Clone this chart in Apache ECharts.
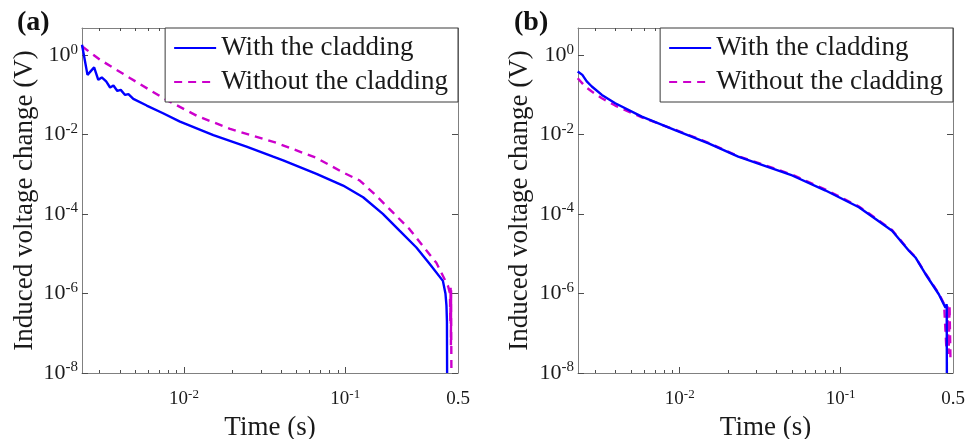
<!DOCTYPE html>
<html><head><meta charset="utf-8">
<script src="https://cdn.jsdelivr.net/npm/echarts@6/dist/echarts.min.js"></script>
<style>html,body{margin:0;padding:0;background:#fff}#c{width:980px;height:439px}</style>
</head><body><div id="c"></div>
<script>
// ---------------- data ----------------
const seriesNames = ['With the cladding', 'Without the cladding'];
const panelLabels = ['(a)', '(b)'];
const xAxisName = 'Time (s)';
const yAxisName = 'Induced voltage change (V)';
const xRange = [0.00233, 0.5];
const yRange = [1e-8, 4.8];
const xMajorTicks = [0.01, 0.1];
const xTickLabels = [0.01, 0.1, 0.5];
const xMinorTicks = [0.003, 0.004, 0.005, 0.006, 0.007, 0.008, 0.009,
  0.02, 0.03, 0.04, 0.05, 0.06, 0.07, 0.08, 0.09];
const yMajorTicks = [1e-8, 1e-6, 1e-4, 1e-2, 1];

// panel (a) - with the cladding
const timeA1 = [0.00233, 0.00252, 0.00277, 0.00294, 0.00309, 0.00329, 0.00348, 0.00365, 0.00386, 0.00405,
  0.00431, 0.00452, 0.00485, 0.00587, 0.00741, 0.00944, 0.0152, 0.0244, 0.0357, 0.0412, 0.0663, 0.0969,
  0.129, 0.171, 0.217, 0.276, 0.334, 0.403, 0.418, 0.424, 0.427, 0.428];
const voltA1 = [1.82, 0.318, 0.489, 0.238, 0.273, 0.217, 0.153, 0.172, 0.125, 0.133,
  0.0994, 0.104, 0.0788, 0.0537, 0.0343, 0.0212, 0.0097, 0.00494, 0.00277, 0.00223, 0.00103, 5.21e-4,
  2.64e-4, 1.01e-4, 3.81e-5, 1.44e-5, 5.5e-6, 2.08e-6, 1.0e-6, 5e-7, 2e-7, 1e-8];
// panel (a) - without the cladding
const timeA2 = [0.00233, 0.00302, 0.00464, 0.00745, 0.0120, 0.0193, 0.0269, 0.0375, 0.0663, 0.0969,
  0.123, 0.156, 0.198, 0.251, 0.303, 0.367, 0.434, 0.446, 0.448, 0.450, 0.452, 0.453, 0.455];
const voltA2 = [1.66, 0.760, 0.262, 0.082, 0.0297, 0.0139, 0.00927, 0.00617, 0.00258, 0.00111,
  6.97e-4, 2.86e-4, 1.08e-4, 4.11e-5, 1.56e-5, 5.93e-6, 1.53e-6, 1.0e-6, 2e-7, 1.4e-6, 5e-8, 1.2e-6, 1e-8];
// panel (b) - with the cladding
const timeB1 = [0.00232, 0.00248, 0.00264, 0.00284, 0.00328, 0.00397, 0.00581, 0.00935, 0.0151, 0.0231,
  0.0311, 0.0500, 0.0807, 0.130, 0.165, 0.209, 0.266, 0.292, 0.337, 0.408, 0.449, 0.457, 0.458];
const voltB1 = [0.388, 0.318, 0.217, 0.162, 0.0994, 0.0614, 0.0283, 0.0130, 0.00600, 0.00277,
  0.00184, 9.33e-4, 3.90e-4, 1.48e-4, 7.52e-5, 3.81e-5, 1.19e-5, 8.07e-6, 3.1e-6, 9.6e-7, 4.4e-7, 5.4e-7, 1e-8];
// panel (b) - without the cladding
const timeB2 = [0.00232, 0.00258, 0.00284, 0.00328, 0.00397, 0.00581, 0.00935, 0.0151, 0.0231, 0.0311,
  0.0500, 0.0807, 0.130, 0.165, 0.209, 0.266, 0.292, 0.337, 0.408, 0.440, 0.448, 0.455, 0.462, 0.470, 0.476, 0.482];
const voltB2 = [0.262, 0.162, 0.121, 0.082, 0.0537, 0.027, 0.0133, 0.0062, 0.00285, 0.0019,
  9.8e-4, 4.1e-4, 1.55e-4, 7.9e-5, 3.95e-5, 1.22e-5, 8.2e-6, 3.2e-6, 1.0e-6, 5.5e-7, 5e-7, 4e-8, 5e-7, 3e-8, 5e-7, 2.5e-8];

// ---------------- build ----------------
const FONT = '"Liberation Serif","Times New Roman",serif';
const L = Math.log10;
const pairs = (t, v) => t.map((x, i) => [L(x), L(v[i])]);
const panels = [
  { grid: { left: 82, top: 28, width: 376, height: 345, containLabel: false, outerBoundsMode: 'none' },
    legendRight: 522, nameGapY: 44, titleLeft: 17,
    data: [pairs(timeA1, voltA1), pairs(timeA2, voltA2)] },
  { grid: { left: 578, top: 28, width: 375, height: 345, containLabel: false, outerBoundsMode: 'none' },
    legendRight: 27, nameGapY: 45, titleLeft: 514,
    data: [pairs(timeB1, voltB1), pairs(timeB2, voltB2)] }
];
const colors = ['#0000ff', '#cc00cc'];
const lineStyles = [{ width: 2.4, type: 'solid' }, { width: 2.4, type: [8, 6] }];
const AXIS = '#808080', TICK = '#4d4d4d', TXT = '#1a1a1a';

function powFmt(v) {
  const n = Math.round(v);
  if (Math.abs(v - n) < 1e-6) return '{b|10}{s|' + n + '}';
  return '{b|' + (+Math.pow(10, v).toPrecision(2)) + '}';
}
const xRich = { b: { fontFamily: FONT, fontSize: 19, lineHeight: 22, color: TXT },
  s: { fontFamily: FONT, fontSize: 13, lineHeight: 13, verticalAlign: 'top', color: TXT } };
const yRich = { b: { fontFamily: FONT, fontSize: 22, lineHeight: 26, color: TXT },
  s: { fontFamily: FONT, fontSize: 15, lineHeight: 15, verticalAlign: 'top', color: TXT } };

const grids = [], xAxes = [], yAxes = [], series = [], legends = [], titles = [];
panels.forEach((p, g) => {
  grids.push(p.grid);
  const xBase = { gridIndex: g, type: 'value', min: L(xRange[0]), max: L(xRange[1]), splitLine: { show: false },
    axisLabel: { show: false }, axisLine: { show: false, onZero: false } };
  const xMain = xAxes.length;
  xAxes.push(Object.assign({}, xBase, {
    position: 'bottom',
    axisLine: { show: true, onZero: false, lineStyle: { color: AXIS, width: 1 } },
    axisTick: { show: true, inside: true, length: 6, customValues: xMajorTicks.map(L), lineStyle: { color: TICK } },
    axisLabel: { show: true, customValues: xTickLabels.map(L), formatter: powFmt, rich: xRich, margin: 15,
      showMinLabel: true, showMaxLabel: true },
    name: xAxisName, nameLocation: 'middle', nameGap: 41, nameMoveOverlap: false,
    nameTextStyle: { fontFamily: FONT, fontSize: 27, color: TXT }
  }));
  xAxes.push(Object.assign({}, xBase, { position: 'bottom',
    axisTick: { show: true, inside: true, length: 3, customValues: xMinorTicks.map(L), lineStyle: { color: TICK } } }));
  xAxes.push(Object.assign({}, xBase, { position: 'top',
    axisLine: { show: true, onZero: false, lineStyle: { color: AXIS, width: 1 } },
    axisTick: { show: true, inside: true, length: 6, customValues: xMajorTicks.map(L), lineStyle: { color: TICK } } }));
  xAxes.push(Object.assign({}, xBase, { position: 'top',
    axisTick: { show: true, inside: true, length: 3, customValues: xMinorTicks.map(L), lineStyle: { color: TICK } } }));

  const yBase = { gridIndex: g, type: 'value', min: L(yRange[0]), max: L(yRange[1]), splitLine: { show: false } };
  const yMain = yAxes.length;
  yAxes.push(Object.assign({}, yBase, {
    position: 'left',
    axisLine: { show: true, onZero: false, lineStyle: { color: AXIS, width: 1 } },
    axisTick: { show: true, inside: true, length: 6, customValues: yMajorTicks.map(L), lineStyle: { color: TICK } },
    axisLabel: { show: true, customValues: yMajorTicks.map(L), formatter: powFmt, rich: yRich, margin: 4 },
    name: yAxisName, nameLocation: 'middle', nameGap: p.nameGapY, nameMoveOverlap: false,
    nameTextStyle: { fontFamily: FONT, fontSize: 27, color: TXT }
  }));
  yAxes.push(Object.assign({}, yBase, {
    position: 'right',
    axisLine: { show: true, onZero: false, lineStyle: { color: AXIS, width: 1 } },
    axisTick: { show: true, inside: true, length: 6, customValues: yMajorTicks.map(L), lineStyle: { color: TICK } },
    axisLabel: { show: false }
  }));

  seriesNames.forEach((nm, k) => {
    series.push({ name: nm, type: 'line', xAxisIndex: xMain, yAxisIndex: yMain, data: p.data[k],
      symbol: 'none', showSymbol: false, clip: true, animation: false, z: 2 + (1 - k),
      lineStyle: Object.assign({ color: colors[k] }, lineStyles[k]), itemStyle: { color: colors[k] } });
  });

  legends.push({ orient: 'vertical', right: p.legendRight, top: 28, selectedMode: false,
    backgroundColor: '#fff', borderColor: '#3a3a3a', borderWidth: 1, borderRadius: 0, padding: [6, 10, 6, 8],
    itemWidth: 42, itemHeight: 14, itemGap: 6, z: 10,
    itemStyle: { opacity: 0 },
    textStyle: { fontFamily: FONT, fontSize: 27, lineHeight: 28, color: TXT },
    data: seriesNames });
  titles.push({ text: panelLabels[g], left: p.titleLeft, top: 9, padding: 0,
    textStyle: { fontFamily: FONT, fontSize: 28, fontWeight: 'bold', color: '#111' } });
});

const chart = echarts.init(document.getElementById('c'), null, { renderer: 'canvas' });
chart.setOption({
  backgroundColor: '#fff', animation: false,
  title: titles, grid: grids, xAxis: xAxes, yAxis: yAxes, legend: legends, series: series
});
</script></body></html>
